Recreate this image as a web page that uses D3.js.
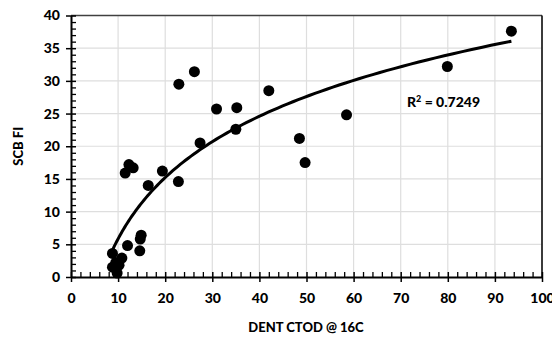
<!DOCTYPE html>
<html>
<head>
<meta charset="utf-8">
<script src="https://cdn.jsdelivr.net/npm/d3@7/dist/d3.min.js"></script>
<style>
  html, body { margin: 0; padding: 0; background: #fff; }
  svg { display: block; }
  text { font-family: Lato, "Open Sans", sans-serif; font-weight: 900; fill: #000; }
</style>
</head>
<body>
<svg id="chart" width="552" height="339"></svg>
<script>
// DENT CTOD @ 16C vs SCB FI
const ctod = [8.8, 8.8, 9.5, 9.8, 10.2, 10.8, 12.0, 14.6, 14.7, 14.9, 11.5, 12.3, 13.2,
              16.4, 19.4, 22.8, 22.9, 26.2, 27.4, 30.9, 35.0, 35.2, 42.0, 48.5, 49.7,
              58.5, 79.9, 93.5];
const scbFi = [3.6, 1.5, 2.2, 0.6, 1.8, 2.9, 4.8, 4.0, 5.8, 6.4, 15.9, 17.2, 16.7,
               14.0, 16.2, 14.6, 29.5, 31.4, 20.5, 25.7, 22.6, 25.9, 28.5, 21.2, 17.5,
               24.8, 32.2, 37.6];
const xTicks = [0, 10, 20, 30, 40, 50, 60, 70, 80, 90, 100];
const yTicks = [0, 5, 10, 15, 20, 25, 30, 35, 40];
const rSquaredLabel = "0.7249";

const svg = d3.select("#chart");
const x = d3.scaleLinear().domain([0, 100]).range([71, 542]);
const y = d3.scaleLinear().domain([0, 40]).range([277, 15.5]);

// grid
const grid = svg.append("g");
grid.selectAll(".vx").data(xTicks.slice(1)).join("line")
  .attr("x1", d => x(d)).attr("x2", d => x(d))
  .attr("y1", y(0)).attr("y2", y(40))
  .attr("stroke", "#dedede").attr("stroke-width", 1.2);
grid.selectAll(".hy").data(yTicks.slice(1)).join("line")
  .attr("x1", x(0)).attr("x2", x(100))
  .attr("y1", d => y(d)).attr("y2", d => y(d))
  .attr("stroke", "#dedede").attr("stroke-width", 1.2);

// frame top / right
svg.append("line").attr("x1", x(0)).attr("x2", x(100)).attr("y1", y(40)).attr("y2", y(40))
  .attr("stroke", "#404040").attr("stroke-width", 1.5);
svg.append("line").attr("x1", x(100)).attr("x2", x(100)).attr("y1", y(40)).attr("y2", y(0))
  .attr("stroke", "#000").attr("stroke-width", 1.5);

// minor ticks
const xMinor = d3.range(0, 101, 2).filter(v => v % 10 !== 0);
const yMinor = d3.range(0, 41, 1).filter(v => v % 5 !== 0);
const xAxisMinor = d3.axisTop(x).tickValues(xMinor).tickSize(5).tickFormat("");
const yAxisMinor = d3.axisRight(y).tickValues(yMinor).tickSize(5).tickFormat("");
svg.append("g").attr("transform", `translate(0,${y(0)})`).call(xAxisMinor)
  .call(g => g.select(".domain").remove())
  .call(g => g.selectAll("line").attr("stroke", "#000").attr("stroke-width", 1.3));
svg.append("g").attr("transform", `translate(${x(0)},0)`).call(yAxisMinor)
  .call(g => g.select(".domain").remove())
  .call(g => g.selectAll("line").attr("stroke", "#000").attr("stroke-width", 1.3));

// major axes (ticks cross the axis line)
const labelFont = g => g.selectAll("text").attr("font-size", 14)
  .attr("font-family", "Lato, sans-serif").attr("font-weight", 900);
const xAxis = d3.axisBottom(x).tickValues(xTicks).tickSizeInner(5).tickSizeOuter(0).tickPadding(11).tickFormat(d3.format("d"));
const yAxis = d3.axisLeft(y).tickValues(yTicks).tickSizeInner(5).tickSizeOuter(0).tickPadding(6).tickFormat(d3.format("d"));
svg.append("g").attr("transform", `translate(0,${y(0)})`).call(xAxis)
  .call(g => g.select(".domain").attr("stroke", "#000").attr("stroke-width", 2))
  .call(g => g.selectAll(".tick line").attr("y1", -5).attr("stroke", "#000").attr("stroke-width", 1.5))
  .call(labelFont);
svg.append("g").attr("transform", `translate(${x(0)},0)`).call(yAxis)
  .call(g => g.select(".domain").attr("stroke", "#000").attr("stroke-width", 2))
  .call(g => g.selectAll(".tick line").attr("x1", 5).attr("stroke", "#000").attr("stroke-width", 1.5))
  .call(labelFont);

// logarithmic trendline: least squares fit of y = a ln(x) + b
const lx = ctod.map(Math.log);
const mx = d3.mean(lx), my = d3.mean(scbFi);
const a = d3.sum(lx, (v, i) => (v - mx) * (scbFi[i] - my)) / d3.sum(lx, v => (v - mx) ** 2);
const b = my - a * mx;
const [xmin, xmax] = d3.extent(ctod);
const trend = d3.range(0, 101).map(i => xmin * Math.pow(xmax / xmin, i / 100));
svg.append("path")
  .datum(trend)
  .attr("d", d3.line().x(d => x(d)).y(d => y(a * Math.log(d) + b)))
  .attr("fill", "none").attr("stroke", "#000").attr("stroke-width", 3);

// points
svg.append("g").selectAll("circle").data(ctod).join("circle")
  .attr("cx", d => x(d)).attr("cy", (d, i) => y(scbFi[i])).attr("r", 5.5)
  .attr("fill", "#000");

// R² annotation
const r2 = svg.append("text").attr("x", 407).attr("y", 107).attr("font-size", 14);
r2.append("tspan").text("R");
r2.append("tspan").attr("font-size", 9).attr("dy", -5).text("2");
r2.append("tspan").attr("dy", 5).text(" = " + rSquaredLabel);

// axis titles
svg.append("text").attr("x", 306).attr("y", 332).attr("text-anchor", "middle")
  .attr("font-size", 13).text("DENT CTOD @ 16C");
svg.append("text").attr("transform", `translate(23,${y(20)}) rotate(-90)`)
  .attr("text-anchor", "middle").attr("font-size", 13).text("SCB FI");
</script>
</body>
</html>
